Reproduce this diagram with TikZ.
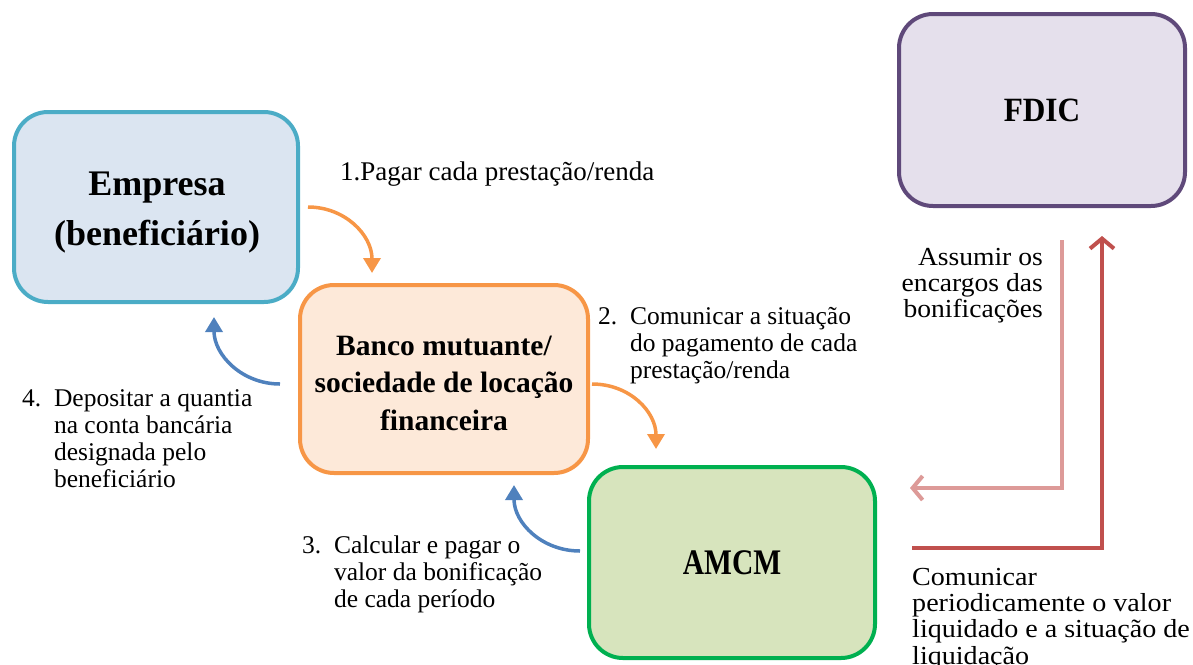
\documentclass[tikz,border=0pt]{standalone}
\usepackage{fontspec}
\setmainfont{Liberation Serif}
\usetikzlibrary{arrows.meta}
\definecolor{empfill}{HTML}{DBE5F1}
\definecolor{empdraw}{HTML}{4BACC6}
\definecolor{banfill}{HTML}{FDE9D9}
\definecolor{bandraw}{HTML}{F79646}
\definecolor{amcfill}{HTML}{D7E4BD}
\definecolor{amcdraw}{HTML}{00B050}
\definecolor{fdifill}{HTML}{E5E0EC}
\definecolor{fdidraw}{HTML}{5F497A}
\definecolor{arrorange}{HTML}{F79646}
\definecolor{arrblue}{HTML}{4F81BD}
\definecolor{arrpink}{HTML}{DD9A98}
\definecolor{arrred}{HTML}{C0504D}
\tikzset{
  box/.style={rounded corners=34pt, line width=4pt, align=center, inner sep=0pt},
  curved/.style={line width=3.5pt, -{Triangle[length=15pt,width=17pt]}},
  elbow/.style={line width=4pt, -{Straight Barb[length=10pt,width=24pt,line width=4pt]}},
  lbl/.style={inner sep=0pt, align=left, font=\fontsize{25.5}{27}\selectfont},
  widelbl/.style={inner sep=0pt, font=\fontsize{26}{26.2}\selectfont},
}
\begin{document}
\begin{tikzpicture}[x=1pt,y=-1pt]
\useasboundingbox (0,0) rectangle (1193,664);
% boxes
\node[box, draw=empdraw, fill=empfill, minimum width=284pt, minimum height=190pt] (emp) at (156,207) {};
\node[align=center, font=\fontsize{36}{50}\selectfont\bfseries] (empt) at (157,213) {Empresa\\(beneficiário)};
\node[box, draw=bandraw, fill=banfill, minimum width=288pt, minimum height=188pt] (ban) at (444,379) {};
\node[align=center, font=\fontsize{29.5}{37.5}\selectfont\bfseries] (bant) at (444,383) {Banco mutuante/\\sociedade de locação\\financeira};
\node[box, draw=amcdraw, fill=amcfill, minimum width=286pt, minimum height=191pt] (amc) at (732,562.5)
      {\scalebox{0.82}[1]{\fontsize{36}{40}\selectfont\bfseries AMCM}};
\node[box, draw=fdidraw, fill=fdifill, minimum width=286pt, minimum height=192pt] (fdi) at (1042,110)
      {\scalebox{0.92}[1]{\fontsize{34}{40}\selectfont\bfseries FDIC}};
% connector end points
\coordinate (a1s) at (308,207);
\coordinate (a1e) at (372,273);
\coordinate (a2s) at (592,384);
\coordinate (a2e) at (656,449);
\coordinate (a4s) at (280,384);
\coordinate (a4e) at (214,317);
\coordinate (a3s) at (580,551);
\coordinate (a3e) at (514,485);
\coordinate (p1) at (1062,240);
\coordinate (p2) at (1062,488);
\coordinate (p3) at (910,488);
\coordinate (r1) at (912,548);
\coordinate (r2) at (1102,548);
\coordinate (r3) at (1102,236);
% curved arrows
\draw[curved, arrorange] (a1s) .. controls (345,207) and (372,235) .. (a1e);
\draw[curved, arrorange] (a2s) .. controls (630,384) and (656,412) .. (a2e);
\draw[curved, arrblue] (a4s) .. controls (242,384) and (214,355) .. (a4e);
\draw[curved, arrblue] (a3s) .. controls (542,551) and (514,523) .. (a3e);
% elbow arrows
\draw[elbow, arrpink, line join=miter] (p1) -- (p2) -- (p3);
\draw[elbow, arrred, line join=miter] (r1) -- (r2) -- (r3);
% labels
\node[lbl, anchor=west, font=\fontsize{27}{27}\selectfont] (l1) at (340,174) {1.Pagar cada prestação/renda};
\node[lbl, anchor=north west] (l2) at (598,305)
  {\begin{tabular}{@{}l@{\ \ }l@{}}2.&Comunicar a situação\\&do pagamento de cada\\&prestação/renda\end{tabular}};
\node[lbl, anchor=north west] (l4) at (22,387)
  {\begin{tabular}{@{}l@{\ \ }l@{}}4.&Depositar a quantia\\&na conta bancária\\&designada pelo\\&beneficiário\end{tabular}};
\node[lbl, anchor=north west] (l3) at (302,534)
  {\begin{tabular}{@{}l@{\ \ }l@{}}3.&Calcular e pagar o\\&valor da bonificação\\&de cada período\end{tabular}};
\node[widelbl, anchor=north east] (la) at (1043,247)
  {\scalebox{1.06}[1]{\begin{tabular}{@{}r@{}}Assumir os\\encargos das\\bonificações\end{tabular}}};
\node[widelbl, anchor=north west] (lc) at (912,567)
  {\scalebox{1.08}[1]{\begin{tabular}{@{}l@{}}Comunicar\\periodicamente o valor\\liquidado e a situação de\\liquidação\end{tabular}}};
\end{tikzpicture}
\end{document}
